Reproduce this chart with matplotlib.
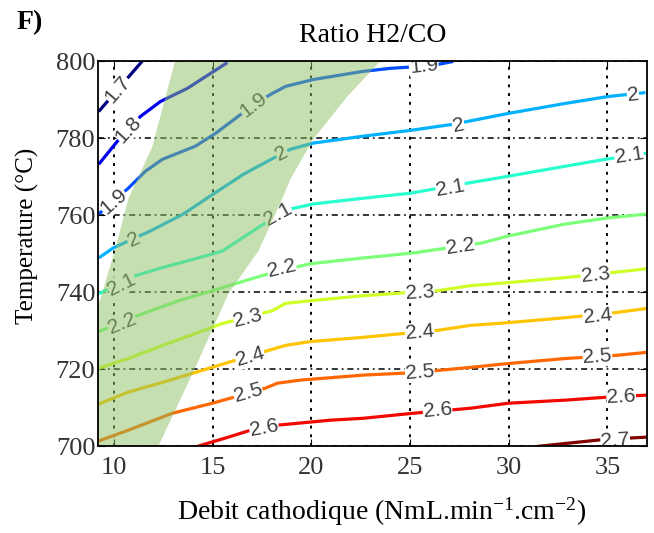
import numpy as np
import matplotlib.pyplot as plt
from matplotlib.colors import Normalize

plt.rcParams['mathtext.fontset'] = 'custom'
plt.rcParams['mathtext.rm'] = 'Liberation Serif'
plt.rcParams['mathtext.it'] = 'Liberation Serif:italic'

levels = [1.7, 1.8, 1.9, 2.0, 2.1, 2.2, 2.3, 2.4, 2.5, 2.6, 2.7]

# contour lines (debit, temperature)
x17 = [9.23, 11.44]
t17 = [786.9, 800.0]
lab17 = [(10.2, 792.6)]

x18 = [9.23, 10.18, 11.34, 12.36, 13.72, 15.75]
t18 = [773.2, 779.2, 785.6, 789.5, 792.9, 799.6]
lab18 = [(10.75, 782.3)]

x19 = [9.23, 10.73, 11.6, 12.46, 14.13, 15.14, 16.16, 17.07, 18.03, 18.69,
       20.1, 22.6, 24.0, 25.5, 26.4, 27.2]
t19 = [760.3, 767.0, 771.4, 774.5, 777.9, 781.2, 785.1, 788.7, 791.6, 793.4,
       795.2, 797.3, 798.1, 798.6, 799.1, 799.9]
lab19 = [(10.0, 763.5), (17.07, 788.7), (25.7, 798.7)]

x20 = [9.23, 9.97, 11.85, 13.52, 15.04, 16.56, 18.08, 18.94, 20.1, 22.64,
       25.02, 27.2, 29.98, 32.87, 35.05, 36.93]
t20 = [748.9, 751.5, 755.9, 760.3, 765.5, 770.6, 774.8, 777.1, 778.7, 780.5,
       782.0, 783.6, 786.4, 789.0, 790.8, 791.8]
lab20 = [(11.0, 753.6), (18.5, 776.0), (27.45, 783.3), (36.3, 791.2)]

x21 = [9.23, 11.09, 12.46, 14.13, 15.5, 16.66, 17.83, 18.94, 20.1, 22.64,
       25.02, 27.9, 29.98, 32.87, 34.9, 37.0]
t21 = [739.6, 744.3, 746.4, 748.7, 750.7, 754.6, 758.5, 761.6, 762.9, 764.4,
       765.7, 768.3, 770.1, 772.7, 774.5, 776.1]
lab21 = [(10.4, 742.0), (18.3, 760.2), (27.05, 767.0), (36.1, 775.4)]

x22 = [9.23, 11.24, 13.27, 14.99, 16.66, 18.03, 19.95, 22.64, 25.17, 28.66,
       29.98, 32.87, 35.05, 37.0]
t22 = [729.8, 734.0, 737.8, 740.4, 743.0, 745.1, 747.4, 748.9, 750.2, 752.8,
       754.6, 757.7, 759.3, 760.3]
lab22 = [(10.4, 732.0), (18.5, 746.2), (27.55, 752.0)]

x23 = [9.23, 10.73, 12.46, 14.13, 15.5, 18.03, 18.69, 19.95, 22.64, 24.87,
       26.39, 28.06, 29.98, 32.87, 35.25, 37.0]
t23 = [720.3, 722.8, 726.2, 729.3, 731.9, 735.2, 737.1, 737.8, 739.1, 739.9,
       740.4, 741.7, 742.5, 743.8, 745.1, 746.1]
lab23 = [(16.8, 733.4), (25.5, 739.9), (34.4, 744.5)]

x24 = [9.23, 10.73, 12.46, 14.13, 15.8, 17.83, 18.69, 19.95, 22.64, 24.67,
       26.39, 28.06, 29.98, 32.87, 35.4, 37.0]
t24 = [711.0, 714.1, 716.6, 719.2, 721.8, 724.9, 726.2, 727.2, 728.3, 729.3,
       730.1, 731.4, 732.1, 733.4, 734.7, 735.8]
lab24 = [(16.9, 723.2), (25.5, 729.6), (34.5, 733.9)]

x25 = [9.23, 10.73, 12.96, 14.99, 15.9, 17.67, 18.28, 19.45, 22.64, 24.67,
       26.39, 28.06, 29.98, 32.87, 35.4, 37.0]
t25 = [701.4, 704.2, 708.6, 711.2, 712.5, 715.1, 716.4, 717.2, 718.5, 719.0,
       719.7, 720.5, 721.5, 722.8, 723.6, 724.4]
lab25 = [(16.8, 713.8), (25.5, 719.2), (34.5, 723.2)]

x26 = [14.23, 15.8, 16.92, 18.28, 20.97, 22.64, 25.17, 28.06, 29.98, 32.87,
       35.05, 37.0]
t26 = [700.0, 702.4, 704.2, 705.5, 706.8, 707.3, 708.6, 709.9, 711.2, 712.0,
       712.8, 713.3]
lab26 = [(17.6, 704.9), (26.4, 709.3), (35.7, 712.9)]

x27 = [31.46, 34.64, 36.26, 37.0]
t27 = [700.0, 701.7, 702.2, 702.4]
lab27 = [(35.4, 701.6)]

# green zone
zone_x = [13.1, 23.5, 21.83, 20.1, 18.94, 18.43, 17.32, 15.8, 14.13, 12.25,
          9.0, 9.0, 10.08, 10.73, 11.95]
zone_t = [800, 800, 790.8, 779.7, 769.3, 763.1, 750.7, 739.6, 720.5, 700,
          700, 733.0, 751.3, 764.2, 777.8]

xs_all = [x17, x18, x19, x20, x21, x22, x23, x24, x25, x26, x27]
ts_all = [t17, t18, t19, t20, t21, t22, t23, t24, t25, t26, t27]
labs_all = [lab17, lab18, lab19, lab20, lab21, lab22, lab23, lab24, lab25,
            lab26, lab27]

fig = plt.figure(figsize=(6.54, 5.33), dpi=100)
ax = fig.add_axes([0.150, 0.1625, 0.839, 0.723])
ax.set_xlim(9.2, 37)
ax.set_ylim(700, 800)

norm = Normalize(1.7, 2.7)
for lev, xs, ts, labs in zip(levels, xs_all, ts_all, labs_all):
    col = plt.cm.jet(norm(lev))
    ax.plot(xs, ts, color=col, lw=2.3, zorder=2, solid_capstyle='butt')
    pts = ax.transData.transform(np.column_stack([xs, ts]))
    for lx, ly in labs:
        i = int(np.clip(np.searchsorted(xs, lx), 1, len(xs) - 1))
        d = pts[i] - pts[i - 1]
        ang = np.degrees(np.arctan2(d[1], d[0]))
        ax.text(lx, ly, f'{lev:g}', rotation=ang, rotation_mode='anchor',
                ha='center', va='center', fontsize=15, color='#404040',
                family='Liberation Sans', zorder=3, clip_on=True,
                bbox=dict(fc='white', ec='none', pad=0.3))

ax.fill(zone_x, zone_t, color='#8dc063', alpha=0.5, lw=0, zorder=4)

ax.set_xticks([10, 15, 20, 25, 30, 35])
ax.set_yticks([700, 720, 740, 760, 780, 800])
ax.set_axisbelow(True)
ax.xaxis.grid(True, color='black', linestyle=(0, (1.5, 3)), linewidth=1.4)
ax.yaxis.grid(True, color='black', linestyle=(0, (4, 2.5, 1.2, 2.5)),
              linewidth=1.1)
ax.tick_params(direction='in', length=5, top=True, right=True,
               labelsize=19, labelcolor='#333333')
ax.tick_params(axis='x', pad=8)
ax.tick_params(axis='y', pad=2)
for lab in ax.get_xticklabels() + ax.get_yticklabels():
    lab.set_family('Liberation Serif')
for sp in ax.spines.values():
    sp.set_zorder(5)
    sp.set_linewidth(1.3)

ax.set_title('Ratio H2/CO', family='Liberation Serif', fontsize=20, pad=14)
ax.set_xlabel('Debit cathodique (NmL.min$^{-1}$.cm$^{-2}$)',
              family='Liberation Serif', fontsize=20)
ax.set_ylabel('Temperature (°C)', family='Liberation Serif', fontsize=18)
ax.xaxis.set_label_coords(0.517, -0.127)
ax.yaxis.set_label_coords(-0.108, 0.545)
fig.text(0.026, 0.957, 'F)', family='Liberation Serif', fontweight='bold',
         fontsize=20, va='center')

plt.savefig('out.png', dpi=100)
